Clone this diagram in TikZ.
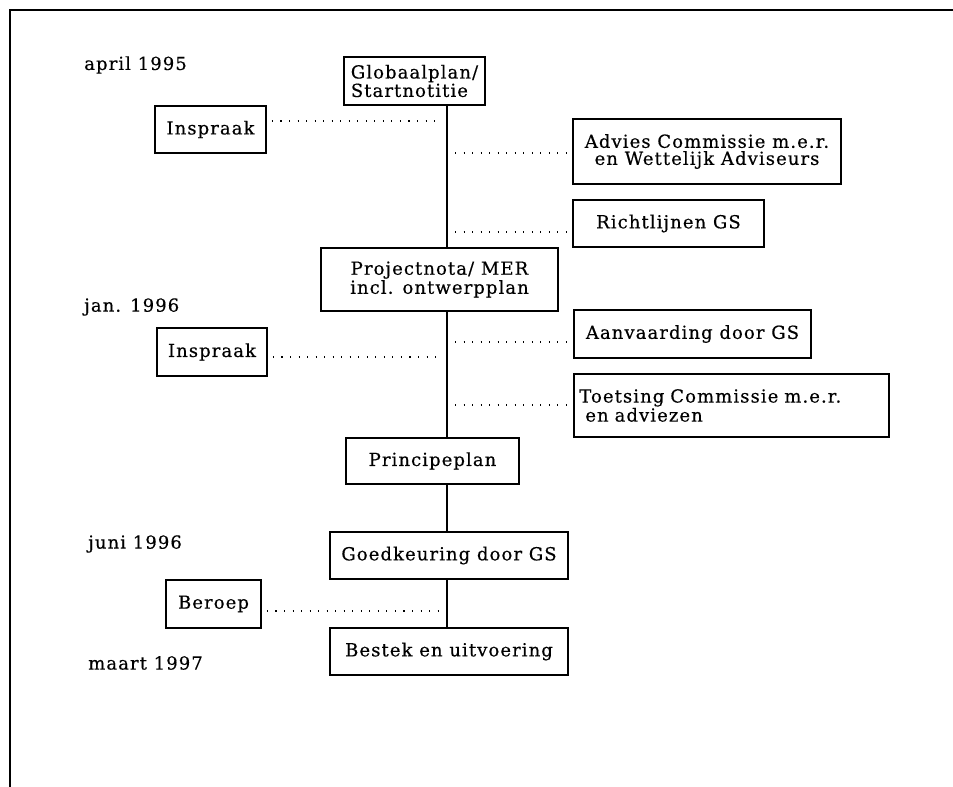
\documentclass[tikz,border=0pt]{standalone}
\usepackage{fontspec}
\setmainfont{DejaVu Serif}[LetterSpace=6, FakeBold=0.4]
\usepackage{tikz}
\tikzstyle{block} = [draw, line width=0.9pt, fill=white, rectangle,
    inner sep=4pt, align=center, font=\fontsize{13.5}{12.8}\selectfont]
\tikzstyle{date} = [anchor=west, inner sep=0pt,
    font=\fontsize{13.5}{12.8}\selectfont]
\tikzstyle{spine} = [line width=2.2pt]
\tikzstyle{dots} = [line width=1pt, dash pattern=on 0.8pt off 5.6pt]
\tikzstyle{frame} = [line width=1.5pt]

\begin{document}
\begin{tikzpicture}[x=0.75pt, y=-0.75pt]
        \useasboundingbox (0,0) rectangle (953,787);
        \draw [frame] (10,787) -- (10,10) -- (953,10);

        % dates
        \node [date] (t1) at (84, 65) {april 1995};
        \node [date] (t2) at (84, 307) {jan. 1996};
        \node [date] (t3) at (88, 544) {juni 1996};
        \node [date] (t4) at (88, 663) {maart 1997};

        % main steps
        \node [block, minimum width=105.75pt, minimum height=36pt, align=left] (glob) at (414.5, 81) {Globaalplan/\\Startnotitie};
        \node [block, minimum width=177.75pt, minimum height=47.25pt] (proj) at (439.5, 279.5) {Projectnota/ MER\\incl. ontwerpplan};
        \node [block, minimum width=129.75pt, minimum height=34.5pt] (princ) at (432.5, 461) {Principeplan};
        \node [block, minimum width=178.5pt, minimum height=35.25pt] (goed) at (449, 555.5) {Goedkeuring door GS};
        \node [block, minimum width=178.5pt, minimum height=35.25pt] (best) at (449, 651.5) {Bestek en uitvoering};

        % side steps
        \node [block, minimum width=83.25pt, minimum height=35.25pt] (insp1) at (210.5, 129.5) {Inspraak};
        \node [block, minimum width=82.5pt, minimum height=36pt] (insp2) at (212, 352) {Inspraak};
        \node [block, minimum width=71.25pt, minimum height=36pt] (ber) at (213.5, 604) {Beroep};
        \node [block, minimum width=201pt, minimum height=48.75pt] (adv) at (707, 151.5) {Advies Commissie m.e.r.\\en Wettelijk Adviseurs};
        \node [block, minimum width=143.25pt, minimum height=35.25pt] (richt) at (668.5, 223.5) {Richtlijnen GS};
        \node [block, minimum width=177.75pt, minimum height=36pt] (aanv) at (692.5, 334) {Aanvaarding door GS};
        \node [block, text width=228.25pt, minimum height=47.25pt, align=left] (toets) at (731.5, 405.5) {Toetsing Commissie m.e.r.\\\ en adviezen};

        \coordinate (axis) at (447, 0);
        \draw [spine] (glob.south -| axis) -- (proj.north -| axis);
        \draw [spine] (proj.south -| axis) -- (princ.north -| axis);
        \draw [spine] (princ.south -| axis) -- (goed.north -| axis);
        \draw [spine] (goed.south -| axis) -- (best.north -| axis);

        \coordinate (l1) at (440, 121);
        \coordinate (l2) at (440, 357);
        \coordinate (l3) at (440, 611);
        \coordinate (r1) at (455, 153);
        \coordinate (r2) at (455, 232);
        \coordinate (r3) at (455, 342);
        \coordinate (r4) at (455, 405);

        \draw [dots, shorten <=4pt] (insp1.east |- l1) -- (l1); \draw [dots, shorten <=4pt] (insp2.east |- l2) -- (l2); \draw [dots, shorten <=4pt] (ber.east |- l3) -- (l3);
        \draw [dots] (r1) -- (r1 -| adv.west); \draw [dots] (r2) -- (r2 -| richt.west);
        \draw [dots] (r3) -- (r3 -| aanv.west); \draw [dots] (r4) -- (r4 -| toets.west);
    \end{tikzpicture}
\end{document}
